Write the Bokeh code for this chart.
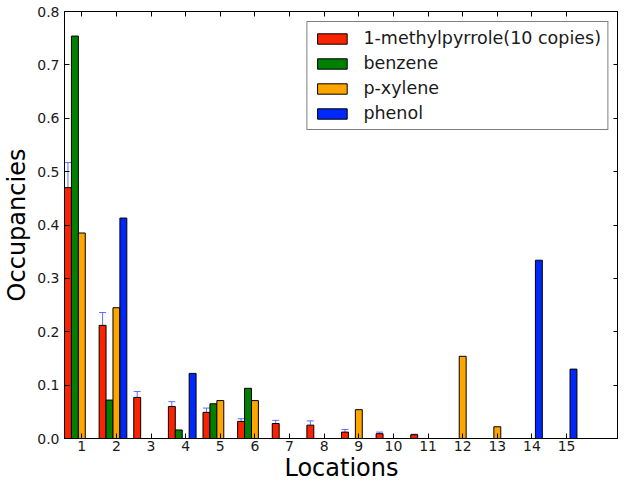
import numpy as np
from bokeh.plotting import figure
from bokeh.models import (Range1d, FixedTicker, LinearAxis, Whisker, TeeHead,
                          ColumnDataSource, PrintfTickFormatter, Legend)
from bokeh.embed import file_html
from bokeh.resources import INLINE

# ---- data ----
locations = [1, 2, 3, 4, 5, 6, 7, 8, 9, 10, 11, 12, 13, 14, 15]
methylpyrrole = [0.470, 0.212, 0.077, 0.060, 0.049, 0.032, 0.028, 0.025, 0.012, 0.009, 0.007, 0.0, 0.0, 0.0, 0.0]
methylpyrrole_err = [0.047, 0.024, 0.011, 0.009, 0.008, 0.005, 0.006, 0.008, 0.005, 0.003, 0.001, 0.0, 0.0, 0.0, 0.0]
benzene = [0.754, 0.072, 0.0, 0.016, 0.065, 0.094, 0.0, 0.0, 0.0, 0.0, 0.0, 0.0, 0.0, 0.0, 0.0]
pxylene = [0.385, 0.245, 0.0, 0.0, 0.071, 0.071, 0.0, 0.0, 0.054, 0.0, 0.0, 0.154, 0.022, 0.0, 0.0]
phenol = [0.0, 0.413, 0.0, 0.122, 0.0, 0.0, 0.0, 0.0, 0.0, 0.0, 0.0, 0.0, 0.0, 0.334, 0.130]
series_names = ["1-methylpyrrole(10 copies)", "benzene", "p-xylene", "phenol"]
y_ticks = [0.0, 0.1, 0.2, 0.3, 0.4, 0.5, 0.6, 0.7, 0.8]

colors = ["#fa2300", "#007f00", "#ffa500", "#0028fa"]
offsets = [-0.4, -0.2, 0.0, 0.2]
bar_w = 0.2
FONT = "DejaVu Sans"

p = figure(width=618, height=484, output_backend="svg", toolbar_location=None,
           x_range=Range1d(0.5, 16.5), y_range=Range1d(0, 0.8),
           min_border_left=64, min_border_right=0, min_border_top=11, min_border_bottom=0)
p.grid.visible = False
p.outline_line_color = "black"
p.outline_line_width = 1
p.background_fill_color = "white"
p.border_fill_color = "white"

loc = np.array(locations, dtype=float)
renderers = []
for vals, name, col, off in zip([methylpyrrole, benzene, pxylene, phenol], series_names, colors, offsets):
    r = p.vbar(x=loc + off, top=vals, width=bar_w, fill_color=col, line_color="black", line_width=1)
    renderers.append((name, [r]))

# error bars on methylpyrrole
mp = np.array(methylpyrrole)
er = np.array(methylpyrrole_err)
mask = er > 0
src = ColumnDataSource(dict(x=(loc - 0.4)[mask], upper=(mp + er)[mask], lower=(mp - er)[mask]))
ecol = "#3a4aff"
w = Whisker(base="x", upper="upper", lower="lower", source=src, dimension="height",
            line_color=ecol, line_alpha=0.8, line_width=1,
            upper_head=TeeHead(size=7, line_color=ecol, line_alpha=0.8),
            lower_head=TeeHead(size=7, line_color=ecol, line_alpha=0.8))
p.add_layout(w)

# axes
def style_axis(ax, show_labels=True):
    ax.major_tick_in = 5
    ax.major_tick_out = 0
    ax.minor_tick_in = 0
    ax.minor_tick_out = 0
    ax.minor_tick_line_color = None
    ax.axis_line_color = "black"
    ax.major_tick_line_color = "black"
    ax.major_label_text_font = FONT
    if show_labels:
        ax.major_label_text_font_size = "14px"
        ax.major_label_text_color = "#1a1a1a"
    else:
        ax.major_label_text_font_size = "0px"
        ax.major_label_text_color = None
        ax.major_label_standoff = 0
        ax.axis_label_standoff = 0

xa = p.xaxis[0]
xa.ticker = FixedTicker(ticks=locations)
style_axis(xa)
xa.major_label_standoff = 2
xa.axis_label = "Locations"
xa.axis_label_text_font = FONT
xa.axis_label_text_font_size = "24px"
xa.axis_label_text_font_style = "normal"
xa.axis_label_text_color = "black"
xa.axis_label_standoff = 0

ya = p.yaxis[0]
ya.ticker = FixedTicker(ticks=y_ticks)
ya.formatter = PrintfTickFormatter(format="%.1f")
style_axis(ya)
ya.major_label_standoff = 5
ya.axis_label = "Occupancies"
ya.axis_label_text_font = FONT
ya.axis_label_text_font_size = "24px"
ya.axis_label_text_font_style = "normal"
ya.axis_label_text_color = "black"
ya.axis_label_standoff = 3

top = LinearAxis(ticker=FixedTicker(ticks=locations))
style_axis(top, show_labels=False)
p.add_layout(top, "above")
right = LinearAxis(ticker=FixedTicker(ticks=y_ticks))
style_axis(right, show_labels=False)
p.add_layout(right, "right")

legend = Legend(items=renderers, location="top_right")
legend.label_text_font = FONT
legend.label_text_font_size = "17.5px"
legend.label_text_color = "#1a1a1a"
legend.glyph_width = 37
legend.glyph_height = 13
legend.label_standoff = 13
legend.label_height = 20
legend.spacing = 5
legend.padding = 6
legend.margin = 10
legend.border_line_color = "black"
legend.border_line_width = 1
legend.background_fill_alpha = 1.0
p.add_layout(legend, "center")

open("out.html", "w").write(file_html(p, INLINE))
